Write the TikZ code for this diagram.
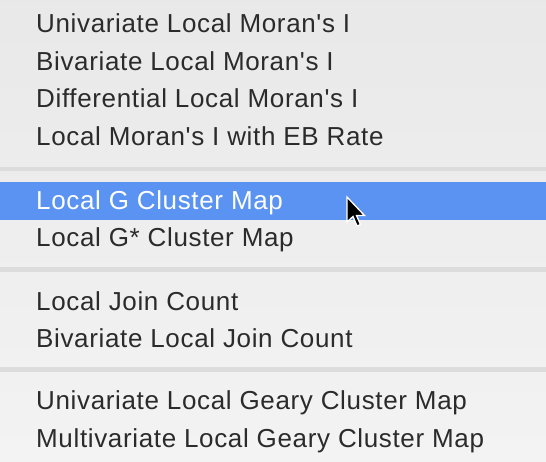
\documentclass[tikz,border=0pt]{standalone}
\usepackage{fontspec}
\setmainfont{Liberation Sans}[Ligatures=TeXOff,LetterSpace=2.5]
\definecolor{menubg}{HTML}{EEEEEE}
\definecolor{sepcol}{HTML}{DCDCDC}
\definecolor{hilite}{HTML}{5A93F2}
\definecolor{txt}{HTML}{2B2B2B}
\begin{document}
\begin{tikzpicture}[x=1pt,y=-1pt,
  item/.style={anchor=base west,inner sep=0pt,font=\fontsize{26}{28}\selectfont,text=txt},
  sel/.style={item,text=white},
  sepbar/.style={fill=sepcol,draw=none}]
\useasboundingbox (0,0) rectangle (546,462);
\shade[top color=menubg!95!gray, bottom color=menubg!70!white, shading angle=0] (0,0) rectangle (546,462);
\fill[sepbar] (0,167) rectangle (546,171.5);
\fill[sepbar] (0,267.5) rectangle (546,272);
\fill[sepbar] (0,367) rectangle (546,371.5);
\fill[hilite] (0,182) rectangle (546,220);
\node[item] (i1) at (36,33) {Univariate Local Moran's I};
\node[item] (i2) at (36,70.5) {Bivariate Local Moran's I};
\node[item] (i3) at (36,108) {Differential Local Moran's I};
\node[item] (i4) at (36,145.5) {Local Moran's I with EB Rate};
\node[sel] (i5) at (36,210) {Local G Cluster Map};
\node[item] (i6) at (36,247) {Local G* Cluster Map};
\node[item] (i7) at (36,310) {Local Join Count};
\node[item] (i8) at (36,347) {Bivariate Local Join Count};
\node[item] (i9) at (36,409) {Univariate Local Geary Cluster Map};
\node[item] (i10) at (36,447) {Multivariate Local Geary Cluster Map};
\coordinate (tip) at (347,197);
\filldraw[fill=black,draw=white,line width=1.3pt,line join=miter,shift={(tip)}]
  (0,0) -- (0,25) -- (6,19.5) -- (10,29) -- (13.5,27.5) -- (9.5,18.5) -- (17.5,18.5) -- cycle;
\end{tikzpicture}
\end{document}
